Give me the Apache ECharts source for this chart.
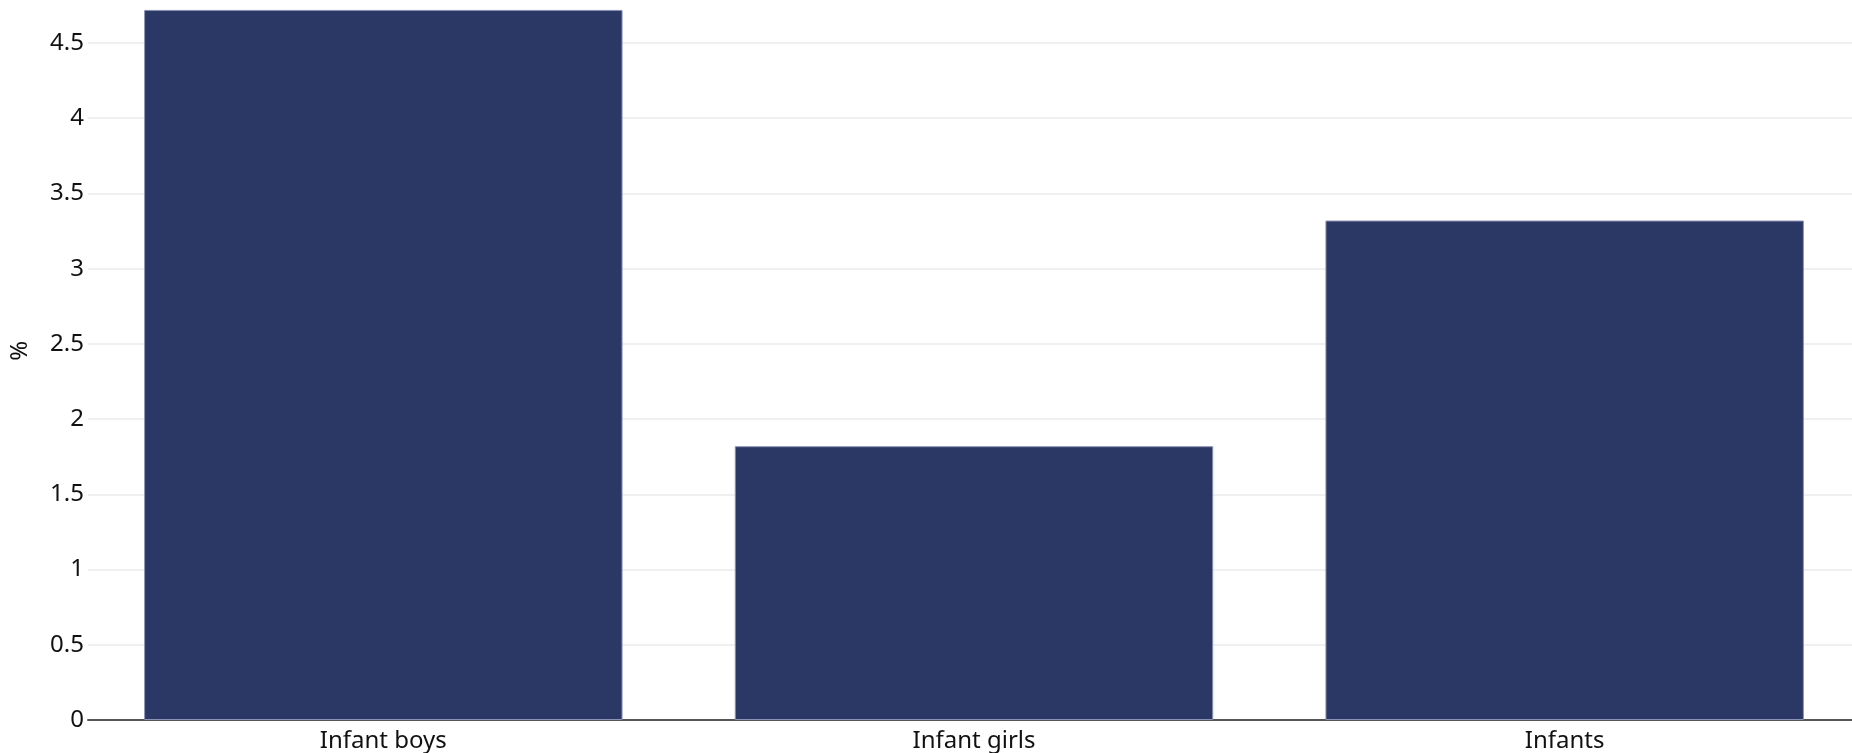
<!DOCTYPE html>
<html>
<head>
<meta charset="utf-8">
<script src="https://cdn.jsdelivr.net/npm/echarts@6/dist/echarts.min.js"></script>
<style>
html,body{margin:0;padding:0;background:#fff;}
#chart{width:1852px;height:753px;}
</style>
</head>
<body>
<div id="chart"></div>
<script>
const categories = ["Infant boys", "Infant girls", "Infants"];
const values = [4.72, 1.82, 3.32];
const yAxisName = "%";

const FONT = '"Noto Sans", sans-serif';
const chart = echarts.init(document.getElementById('chart'));
chart.setOption({
  animation: false,
  grid: { left: 88, right: -8, top: 5.4, bottom: 33, containLabel: false, outerBoundsMode: 'none' },
  xAxis: {
    type: 'category',
    data: categories,
    axisLine: { show: true, lineStyle: { color: '#555', width: 2 } },
    axisTick: { show: false },
    axisLabel: { color: '#111', fontSize: 24, fontFamily: FONT, margin: 9 }
  },
  yAxis: {
    type: 'value',
    min: 0, max: 4.75, interval: 0.5,
    name: yAxisName,
    nameLocation: 'middle',
    nameGap: 56,
    nameRotate: 90,
    nameTextStyle: { color: '#111', fontSize: 24, fontFamily: FONT, padding: [0, 0, 0, 24] },
    axisLine: { show: false },
    axisTick: { show: false },
    axisLabel: { color: '#111', fontSize: 24, fontFamily: FONT, margin: 4, showMaxLabel: false },
    splitLine: { show: true, showMaxLine: false, lineStyle: { color: '#ebebeb', width: 1.5 } }
  },
  series: [{
    type: 'bar',
    data: values,
    barCategoryGap: '19%',
    itemStyle: { color: '#2b3764', borderColor: '#8a93b5', borderWidth: 1 }
  }]
});
</script>
</body>
</html>
